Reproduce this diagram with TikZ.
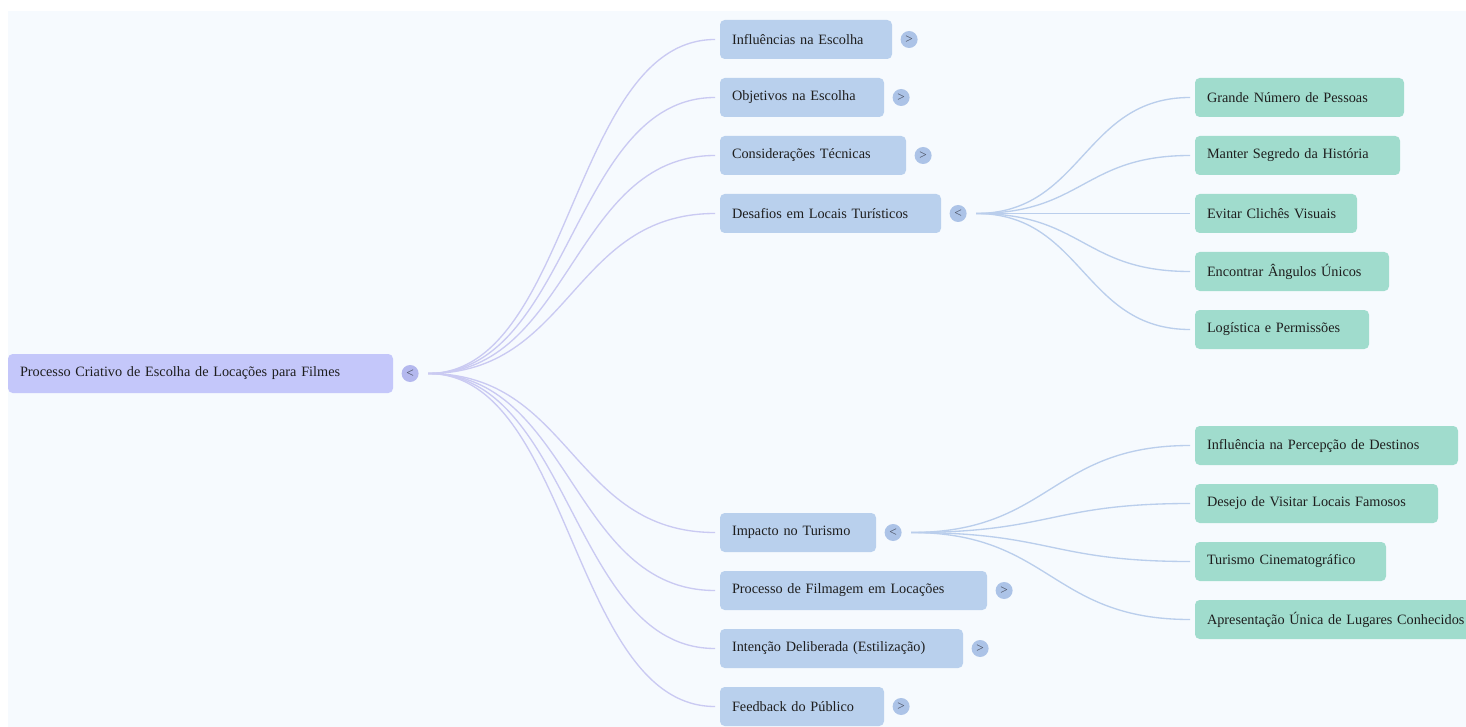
\documentclass[tikz,border=0pt]{standalone}
\usepackage{fontspec}
\setmainfont{Liberation Serif}
\usetikzlibrary{positioning,calc}
\definecolor{bgpanel}{RGB}{246,250,254}
\definecolor{rootfill}{RGB}{196,199,250}
\definecolor{topicfill}{RGB}{185,208,237}
\definecolor{leaffill}{RGB}{160,220,205}
\definecolor{rootdot}{RGB}{180,184,238}
\definecolor{topicdot}{RGB}{172,195,231}
\definecolor{rootline}{RGB}{202,202,242}
\definecolor{topicline}{RGB}{186,206,236}
\definecolor{textdark}{RGB}{30,30,30}
\definecolor{toggray}{RGB}{70,76,92}
\begin{document}
\begin{tikzpicture}[x=0.75pt,y=-0.75pt,
  box/.style={anchor=west,rounded corners=3.5pt,minimum height=29.25pt,inner xsep=9pt,inner ysep=0pt,
    outer xsep=3.75pt,outer ysep=0pt,text=textdark,font=\fontsize{10.7}{12}\selectfont,align=left,text width=#1},
  rootbox/.style={box=#1,fill=rootfill},
  topicbox/.style={box=#1,fill=topicfill},
  leafbox/.style={box=#1,fill=leaffill},
  tog/.style={circle,inner sep=0pt,minimum size=12.75pt,outer sep=0pt,fill=topicdot,text=toggray,
    font=\fontsize{10}{10}\selectfont},
  curve/.style={line width=1pt,to path={let \p1=(\tikztostart),\p2=(\tikztotarget) in
    .. controls ({(\x1+\x2)/2},\y1) and ({(\x1+\x2)/2},\y2) .. (\tikztotarget)}}]
  \useasboundingbox (0,0) rectangle (1466,727);
  \fill[bgpanel] (8,11) rectangle (1466,727);

  \node[rootbox=270.75pt] (root) at (3,373.5) {Processo Criativo de Escolha de Locações para Filmes};
  \node[tog,fill=rootdot,right=2.7pt of root] (roottog) {<};
  \coordinate[right=7.2pt of roottog] (rootfan);

  \node[topicbox=111pt] (infl) at (715,39.5) {Influências na Escolha};
  \node[topicbox=105pt] (obj) at (715,97.5) {Objetivos na Escolha};
  \node[topicbox=121.5pt] (tec) at (715,155.5) {Considerações Técnicas};
  \node[topicbox=147.75pt] (desaf) at (715,213.5) {Desafios em Locais Turísticos};
  \node[topicbox=99pt] (tur) at (715,532.5) {Impacto no Turismo};
  \node[topicbox=182.25pt] (film) at (715,590.5) {Processo de Filmagem em Locações};
  \node[topicbox=164.25pt] (estil) at (715,648.5) {Intenção Deliberada (Estilização)};
  \node[topicbox=105pt] (feed) at (715,706.5) {Feedback do Público};

  \node[tog,right=2.7pt of infl] (infltog) {>};
  \node[tog,right=2.7pt of obj] (objtog) {>};
  \node[tog,right=2.7pt of tec] (tectog) {>};
  \node[tog,right=2.7pt of desaf] (desaftog) {<};
  \node[tog,right=2.7pt of tur] (turtog) {<};
  \node[tog,right=2.7pt of film] (filmtog) {>};
  \node[tog,right=2.7pt of estil] (estiltog) {>};
  \node[tog,right=2.7pt of feed] (feedtog) {>};
  \coordinate[right=7.2pt of desaftog] (desaffan);
  \coordinate[right=7.2pt of turtog] (turfan);

  \node[leafbox=138.75pt] (pessoas) at (1190,97.5) {Grande Número de Pessoas};
  \node[leafbox=135.75pt] (segredo) at (1190,155.5) {Manter Segredo da História};
  \node[leafbox=103.5pt] (cliches) at (1190,213.5) {Evitar Clichês Visuais};
  \node[leafbox=127.5pt] (angulos) at (1190,271.5) {Encontrar Ângulos Únicos};
  \node[leafbox=112.5pt] (logist) at (1190,329.5) {Logística e Permissões};

  \node[leafbox=179.25pt] (percep) at (1190,445.5) {Influência na Percepção de Destinos};
  \node[leafbox=164.25pt] (desejo) at (1190,503.5) {Desejo de Visitar Locais Famosos};
  \node[leafbox=125.25pt] (cine) at (1190,561.5) {Turismo Cinematográfico};
  \node[leafbox=207pt] (apres) at (1190,619.5) {Apresentação Única de Lugares Conhecidos};

  \foreach \t in {infl,obj,tec,desaf,tur,film,estil,feed}
    \draw[curve,rootline] (rootfan) to (\t.west);
  \foreach \t in {pessoas,segredo,cliches,angulos,logist}
    \draw[curve,topicline] (desaffan) to (\t.west);
  \foreach \t in {percep,desejo,cine,apres}
    \draw[curve,topicline] (turfan) to (\t.west);
\end{tikzpicture}
\end{document}
